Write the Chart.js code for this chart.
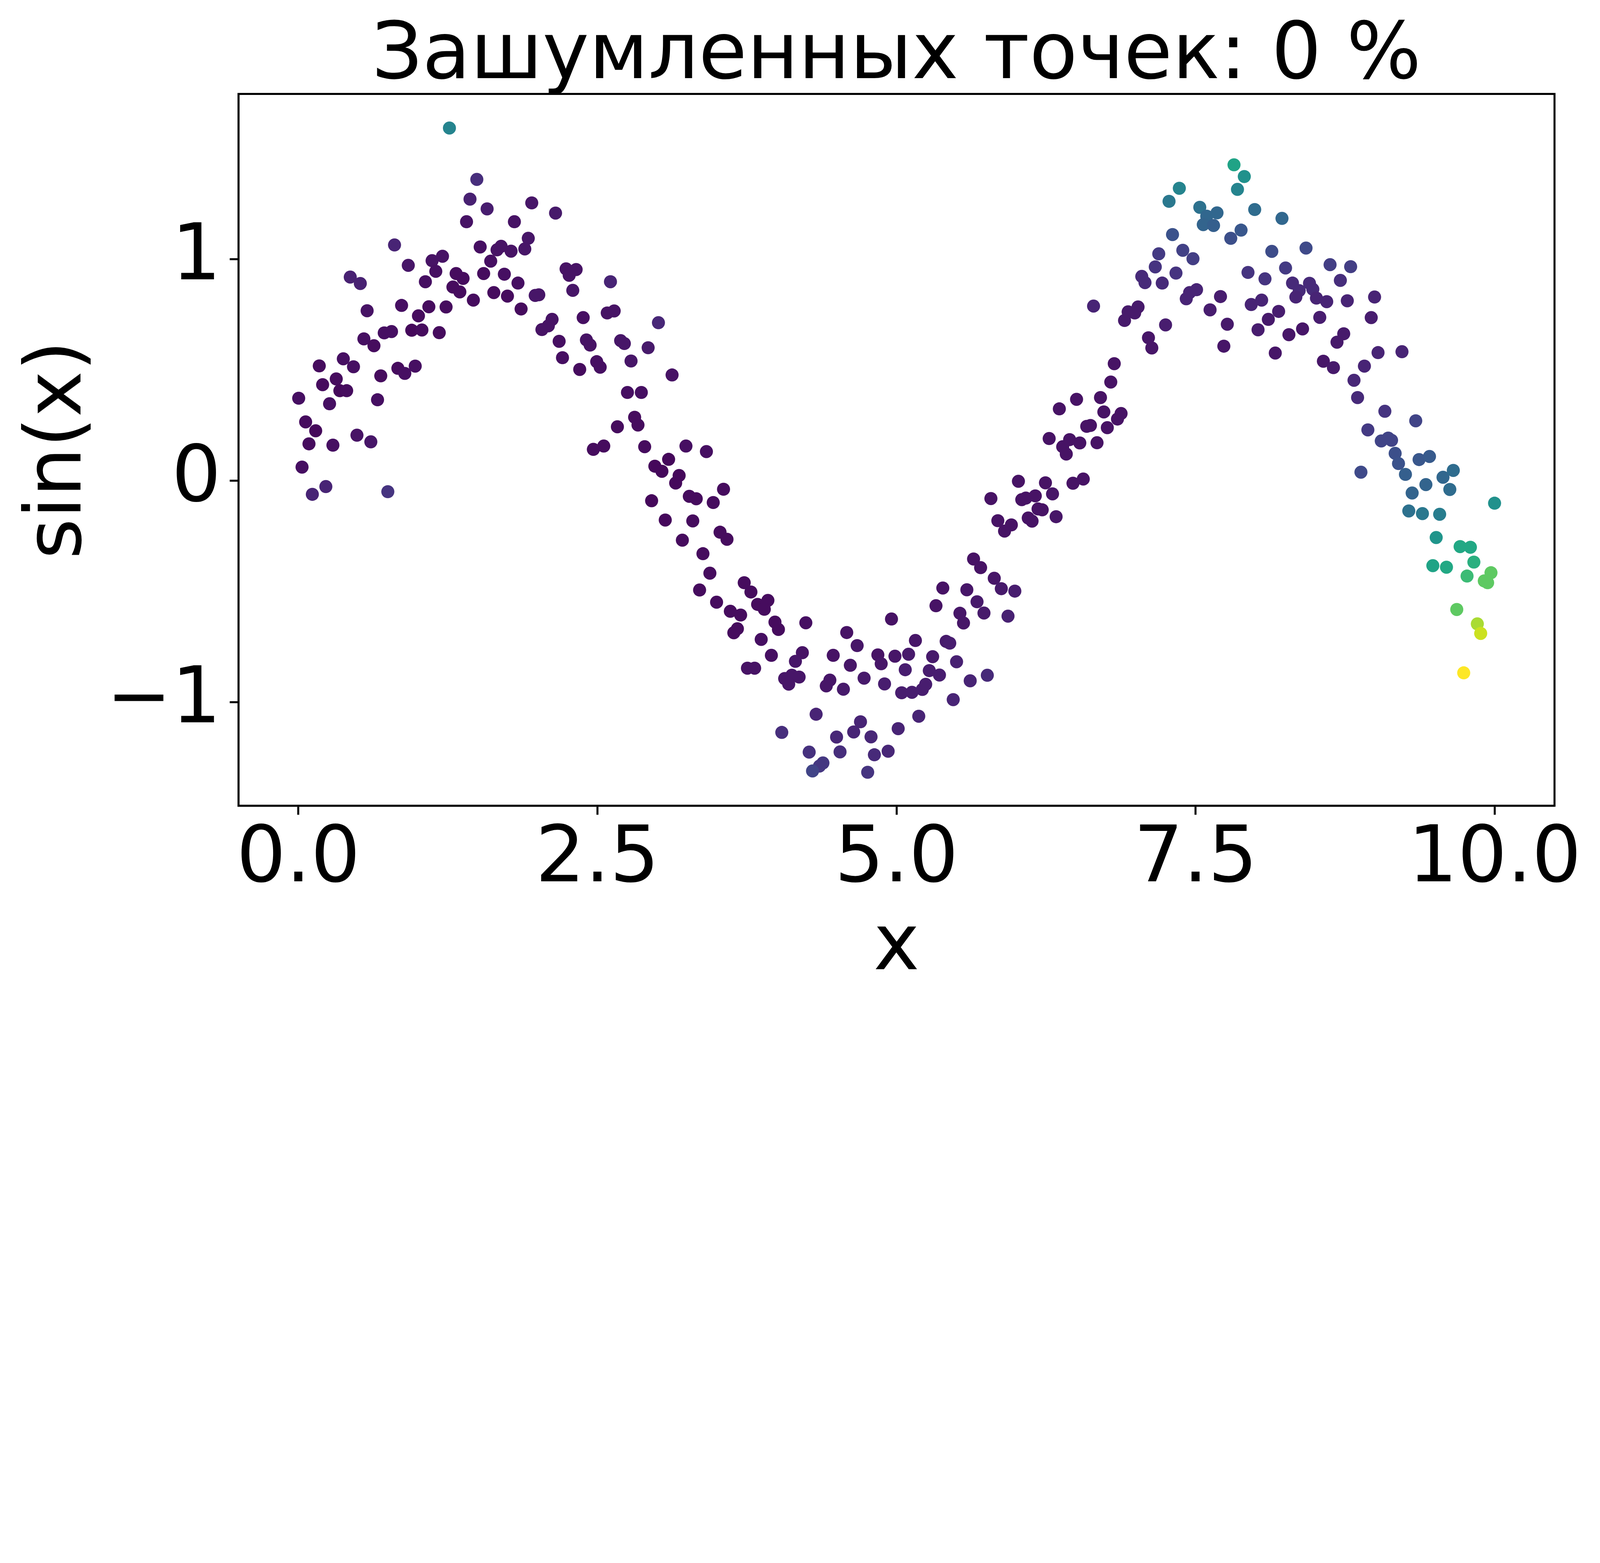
<!DOCTYPE html>
<html>
<head>
<meta charset="utf-8">
<script src="https://cdn.jsdelivr.net/npm/chart.js@4.4.1/dist/chart.umd.min.js"></script>
<style>
  html, body { margin: 0; padding: 0; background: #fff; overflow: hidden; }
  canvas { display: block; }
</style>
</head>
<body>
<canvas id="noisyChart"></canvas>
<script>
// Chart texts
const chartTitle = 'Зашумленных точек: 0 %';
const xAxisLabel = 'x';
const yAxisLabel = 'sin(x)';

// Tick positions
const xTicks = [0, 2.5, 5, 7.5, 10];
const yTicks = [-1, 0, 1];

// Point x positions (left part to right part)
const xValues = [
  1.263,1.492,1.435,1.578,1.406,1.806,1.520,1.661,1.695,1.778,1.608,1.549,1.722,1.836,1.634,1.748,1.463,1.862,0.804,0.919,
  1.118,1.205,1.149,1.319,1.377,1.062,1.292,1.350,0.434,0.518,0.575,0.863,1.091,1.235,1.004,0.548,0.632,0.718,0.779,0.948,
  1.033,1.178,0.175,0.376,0.461,0.317,0.203,0.347,0.404,0.689,0.832,0.890,0.977,0.662,0.003,0.261,0.061,0.145,0.089,0.289,
  0.490,0.606,0.031,0.230,0.117,0.748,
  1.951,2.150,1.922,1.893,2.238,2.322,2.264,2.294,2.609,1.980,2.010,2.121,2.090,2.036,2.381,2.582,2.640,3.010,2.180,2.408,
  2.439,2.694,2.725,2.924,2.208,2.352,2.494,2.523,2.781,3.124,2.751,2.867,2.811,2.839,2.667,2.466,2.553,2.895,3.240,3.411,
  2.980,3.095,3.039,3.183,3.154,3.268,3.326,3.468,3.554,2.953,3.067,3.297,3.210,3.525,3.583,3.382,3.440,3.354,3.727,3.783,
  3.496,3.611,3.697,3.670,3.640,3.754,
  3.839,3.925,3.895,3.984,4.013,3.869,3.954,3.814,4.242,4.584,4.671,4.958,4.213,4.155,4.471,4.614,4.844,4.872,4.987,5.101,
  5.158,4.065,4.125,4.186,4.099,4.443,4.413,4.556,4.729,4.900,5.073,5.043,5.129,5.216,5.244,5.274,5.359,5.302,5.415,5.445,
  5.502,5.616,5.759,5.474,5.186,5.014,4.699,4.642,4.787,4.499,4.328,4.041,4.270,4.528,4.815,4.930,4.385,4.356,4.298,4.759,
  5.330,5.387,5.530,5.560,5.588,5.673,5.731,5.644,5.703,5.817,5.876,5.989,5.932,
  5.789,5.847,5.903,5.960,6.019,6.047,6.081,6.160,6.101,6.133,6.183,6.218,6.245,6.304,6.334,6.276,6.389,6.419,6.447,6.532,
  6.475,6.561,6.361,6.505,6.590,6.621,6.676,6.705,6.733,6.762,6.847,6.877,6.791,6.820,6.647,6.906,6.936,6.991,7.019,7.106,
  7.134,7.249,7.050,7.077,7.163,7.192,7.221,7.307,7.336,7.393,7.478,7.422,7.450,7.508,7.278,7.364,7.535,7.593,7.564,7.650,
  7.679,7.621,7.708,7.765,7.736,7.794,7.880,7.821,7.907,7.850,7.938,7.965,
  7.994,8.222,8.137,8.423,8.252,8.080,8.052,8.022,8.624,8.796,8.710,8.310,8.366,8.338,8.452,8.480,8.510,8.596,8.768,8.996,
  8.194,8.108,8.538,8.968,8.280,8.394,8.738,8.682,8.166,8.568,8.652,9.025,9.225,8.911,8.824,8.854,9.082,9.340,8.940,9.052,
  9.110,9.138,9.168,9.196,8.882,9.368,9.455,9.254,9.568,9.654,9.425,9.625,9.310,9.999,9.282,9.396,9.540,9.511,9.711,9.797,
  9.826,9.483,9.597,9.769,9.969,9.913,9.941,9.683,9.855,9.883,9.741
];

// Point y positions, same order
const yValues = [
  1.592,1.360,1.271,1.227,1.169,1.169,1.055,1.042,1.058,1.036,0.991,0.935,0.932,0.892,0.849,0.833,0.815,0.775,1.064,0.972,
  0.993,1.013,0.945,0.935,0.913,0.898,0.874,0.852,0.919,0.890,0.767,0.791,0.785,0.784,0.744,0.640,0.609,0.667,0.673,0.679,
  0.680,0.668,0.518,0.550,0.514,0.459,0.433,0.406,0.406,0.473,0.507,0.484,0.517,0.365,0.372,0.347,0.265,0.225,0.166,0.160,
  0.205,0.175,0.061,-0.027,-0.062,-0.050,
  1.254,1.208,1.094,1.046,0.956,0.953,0.927,0.859,0.898,0.836,0.839,0.728,0.699,0.682,0.736,0.757,0.766,0.713,0.629,0.635,
  0.612,0.632,0.619,0.600,0.555,0.502,0.537,0.512,0.540,0.477,0.398,0.398,0.286,0.251,0.243,0.141,0.156,0.153,0.156,0.131,
  0.065,0.096,0.042,0.023,-0.011,-0.071,-0.082,-0.099,-0.039,-0.091,-0.178,-0.182,-0.269,-0.233,-0.265,-0.330,-0.418,-0.494,-0.461,-0.503,
  -0.549,-0.590,-0.607,-0.669,-0.687,-0.847,
  -0.559,-0.541,-0.581,-0.639,-0.672,-0.717,-0.789,-0.847,-0.642,-0.686,-0.745,-0.625,-0.777,-0.816,-0.789,-0.834,-0.787,-0.827,-0.793,-0.784,
  -0.722,-0.894,-0.879,-0.887,-0.919,-0.901,-0.927,-0.942,-0.892,-0.918,-0.854,-0.958,-0.956,-0.943,-0.920,-0.858,-0.878,-0.795,-0.726,-0.734,
  -0.818,-0.904,-0.879,-0.989,-1.064,-1.120,-1.089,-1.135,-1.157,-1.158,-1.055,-1.137,-1.226,-1.225,-1.238,-1.222,-1.275,-1.289,-1.311,-1.317,
  -0.565,-0.485,-0.599,-0.643,-0.493,-0.547,-0.598,-0.354,-0.393,-0.441,-0.488,-0.499,-0.612,
  -0.081,-0.181,-0.228,-0.200,-0.003,-0.086,-0.079,-0.069,-0.169,-0.183,-0.128,-0.132,-0.010,-0.060,-0.163,0.190,0.153,0.120,0.185,0.170,
  -0.012,0.007,0.324,0.367,0.245,0.249,0.171,0.375,0.310,0.239,0.278,0.303,0.445,0.528,0.788,0.723,0.762,0.757,0.784,0.645,
  0.599,0.703,0.922,0.894,0.965,1.024,0.892,1.111,0.937,1.040,1.002,0.821,0.849,0.862,1.261,1.320,1.234,1.194,1.156,1.152,
  1.209,0.771,0.831,0.706,0.607,1.094,1.131,1.426,1.373,1.315,0.940,0.795,
  1.224,1.184,1.035,1.050,0.960,0.911,0.815,0.681,0.975,0.966,0.904,0.892,0.858,0.829,0.891,0.864,0.824,0.808,0.812,0.829,
  0.764,0.728,0.737,0.736,0.659,0.685,0.663,0.625,0.576,0.539,0.510,0.578,0.582,0.517,0.453,0.375,0.313,0.270,0.229,0.179,
  0.192,0.182,0.123,0.077,0.038,0.095,0.109,0.028,0.015,0.046,-0.018,-0.040,-0.056,-0.102,-0.137,-0.149,-0.152,-0.257,-0.298,-0.301,
  -0.368,-0.384,-0.391,-0.431,-0.416,-0.453,-0.461,-0.582,-0.647,-0.690,-0.868
];

// Colour level of each point (0 = dark purple, 1 = yellow), same order
const colorLevels = [
  0.45,0.13,0.09,0.08,0.05,0.05,0.04,0.05,0.05,0.05,0.04,0.03,0.04,0.04,0.03,0.03,0.03,0.03,0.10,0.06,
  0.05,0.05,0.04,0.03,0.03,0.04,0.03,0.03,0.09,0.09,0.05,0.04,0.03,0.03,0.03,0.04,0.03,0.04,0.04,0.02,
  0.03,0.03,0.03,0.04,0.04,0.03,0.03,0.02,0.03,0.03,0.03,0.04,0.04,0.04,0.04,0.04,0.03,0.02,0.03,0.04,
  0.05,0.06,0.04,0.10,0.10,0.15,
  0.06,0.07,0.06,0.06,0.05,0.05,0.05,0.06,0.10,0.06,0.06,0.05,0.05,0.05,0.04,0.05,0.05,0.11,0.04,0.05,
  0.05,0.06,0.06,0.07,0.04,0.03,0.04,0.04,0.06,0.05,0.04,0.04,0.03,0.03,0.03,0.03,0.03,0.03,0.04,0.04,
  0.02,0.02,0.02,0.02,0.02,0.03,0.03,0.03,0.03,0.02,0.02,0.03,0.03,0.03,0.03,0.03,0.03,0.03,0.03,0.03,
  0.03,0.03,0.03,0.03,0.03,0.05,
  0.03,0.03,0.03,0.03,0.03,0.04,0.04,0.05,0.04,0.05,0.06,0.05,0.05,0.06,0.05,0.06,0.05,0.06,0.06,0.07,
  0.06,0.06,0.06,0.06,0.06,0.06,0.06,0.07,0.07,0.08,0.08,0.08,0.08,0.08,0.08,0.08,0.08,0.07,0.07,0.08,
  0.09,0.10,0.12,0.10,0.10,0.10,0.10,0.10,0.11,0.11,0.10,0.13,0.14,0.13,0.12,0.11,0.16,0.16,0.20,0.15,
  0.05,0.05,0.06,0.06,0.06,0.07,0.07,0.05,0.05,0.06,0.07,0.08,0.09,
  0.05,0.05,0.05,0.05,0.05,0.05,0.05,0.05,0.05,0.05,0.05,0.05,0.05,0.06,0.06,0.05,0.05,0.05,0.05,0.05,
  0.05,0.05,0.05,0.05,0.05,0.05,0.05,0.05,0.05,0.05,0.05,0.05,0.05,0.05,0.10,0.07,0.07,0.07,0.07,0.06,
  0.06,0.08,0.12,0.12,0.15,0.17,0.12,0.25,0.15,0.19,0.18,0.10,0.10,0.10,0.40,0.45,0.37,0.33,0.32,0.30,
  0.33,0.08,0.08,0.07,0.06,0.24,0.27,0.58,0.50,0.45,0.15,0.10,
  0.35,0.33,0.23,0.22,0.17,0.15,0.10,0.08,0.18,0.18,0.13,0.12,0.12,0.10,0.12,0.12,0.10,0.10,0.10,0.10,
  0.08,0.07,0.08,0.08,0.06,0.06,0.07,0.07,0.06,0.06,0.07,0.10,0.10,0.10,0.11,0.12,0.15,0.20,0.17,0.20,
  0.20,0.20,0.24,0.25,0.22,0.27,0.28,0.30,0.33,0.35,0.32,0.35,0.32,0.50,0.37,0.40,0.42,0.52,0.60,0.60,
  0.63,0.58,0.60,0.68,0.75,0.75,0.75,0.75,0.87,0.92,1.00
];

// viridis colour map, sampled every 0.05
const viridis = [
  '#440154','#471365','#482475','#463480','#414487','#3b528b','#355f8d','#2f6c8e','#2a788e','#25848e',
  '#21918c','#1e9c89','#22a884','#2fb47c','#44bf70','#5ec962','#7ad151','#9bd93c','#bddf26','#dfe318','#fde725'
];

function hexToRgb(hex) {
  const n = parseInt(hex.slice(1), 16);
  return [(n >> 16) & 255, (n >> 8) & 255, n & 255];
}

function viridisColor(level) {
  const t = Math.min(1, Math.max(0, level)) * (viridis.length - 1);
  const i = Math.min(viridis.length - 2, Math.floor(t));
  const f = t - i;
  const a = hexToRgb(viridis[i]);
  const b = hexToRgb(viridis[i + 1]);
  const c = a.map((v, k) => Math.round(v + (b[k] - v) * f));
  return `rgb(${c[0]}, ${c[1]}, ${c[2]})`;
}

const count = Math.min(xValues.length, yValues.length, colorLevels.length);
const points = [];
const pointColors = [];
for (let i = 0; i < count; i++) {
  points.push({ x: xValues[i], y: yValues[i] });
  pointColors.push(viridisColor(colorLevels[i]));
}

// Sizes below are measured on the 6366x4001 picture; scale them to the window width
const W = window.innerWidth;
const k = W / 6366;
const H = Math.round(4001 * k);
const px = (v) => v * k;

const canvas = document.getElementById('noisyChart');
canvas.width = W;
canvas.height = H;

const FONT = 'DejaVu Sans';

// Top and right spines of the axes box
const framePlugin = {
  id: 'frame',
  afterDraw(chart) {
    const { ctx, chartArea } = chart;
    ctx.save();
    ctx.strokeStyle = '#000';
    ctx.lineWidth = px(8);
    ctx.strokeRect(chartArea.left, chartArea.top, chartArea.right - chartArea.left, chartArea.bottom - chartArea.top);
    ctx.restore();
  }
};

new Chart(canvas.getContext('2d'), {
  type: 'scatter',
  data: {
    datasets: [{
      data: points,
      pointBackgroundColor: pointColors,
      pointBorderWidth: 0,
      pointRadius: px(26),
      pointHoverRadius: px(26),
    }],
  },
  options: {
    responsive: false,
    animation: false,
    events: [],
    layout: { padding: { left: 0, right: px(181), top: 0, bottom: 0 } },
    plugins: {
      legend: { display: false },
      tooltip: { enabled: false },
      title: {
        display: true,
        fullSize: false,
        text: chartTitle,
        color: '#000',
        font: { family: FONT, size: px(313), weight: 'normal', lineHeight: 0.9 },
        padding: { top: px(88), bottom: px(4) },
      },
    },
    scales: {
      x: {
        type: 'linear',
        min: -0.5,
        max: 10.5,
        afterBuildTicks: (scale) => { scale.ticks = xTicks.map(v => ({ value: v })); },
        afterFit: (scale) => { scale.height = px(795); },
        ticks: {
          color: '#000',
          font: { family: FONT, size: px(310), lineHeight: 1 },
          padding: px(30),
          autoSkip: false,
          maxRotation: 0,
          callback: (v) => Number(v).toFixed(1),
        },
        grid: { drawOnChartArea: false, drawTicks: true, tickLength: px(36), tickWidth: px(8), tickColor: '#000' },
        border: { display: true, color: '#000', width: px(8) },
        title: {
          display: true,
          text: xAxisLabel,
          color: '#000',
          font: { family: FONT, size: px(310), lineHeight: 1 },
          padding: { top: 0, bottom: px(70) },
        },
      },
      y: {
        type: 'linear',
        min: -1.468,
        max: 1.746,
        afterBuildTicks: (scale) => { scale.ticks = yTicks.map(v => ({ value: v })); },
        afterFit: (scale) => { scale.width = px(949); },
        ticks: {
          color: '#000',
          font: { family: FONT, size: px(310), lineHeight: 1 },
          padding: px(34),
          callback: (v) => (v < 0 ? '\u2212' + Math.abs(v) : String(v)),
        },
        grid: { drawOnChartArea: false, drawTicks: true, tickLength: px(35), tickWidth: px(8), tickColor: '#000' },
        border: { display: true, color: '#000', width: px(8) },
        title: {
          display: true,
          text: yAxisLabel,
          color: '#000',
          font: { family: FONT, size: px(310), lineHeight: 1 },
          padding: { top: px(84), bottom: 0 },
        },
      },
    },
  },
  plugins: [framePlugin],
});
</script>
</body>
</html>
